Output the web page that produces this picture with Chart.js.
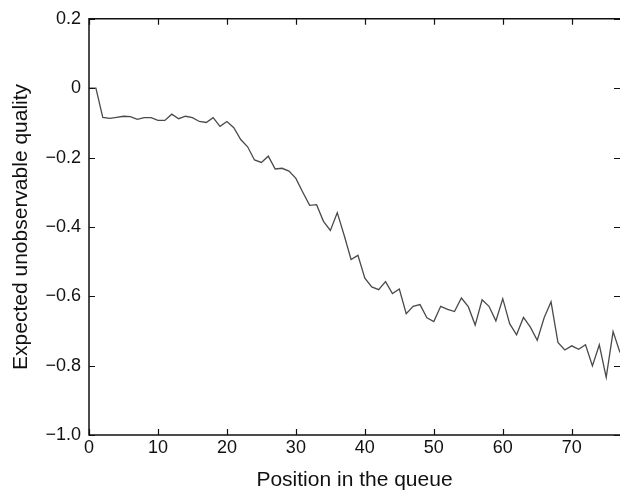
<!DOCTYPE html>
<html>
<head>
<meta charset="utf-8">
<script src="https://cdn.jsdelivr.net/npm/chart.js@4/dist/chart.umd.min.js"></script>
<style>
  html, body { margin: 0; padding: 0; background: #fff; }
  #wrap { width: 620px; height: 493px; }
</style>
</head>
<body>
<div id="wrap"><canvas id="c" width="620" height="493"></canvas></div>
<script>
// Position in the queue (x) and expected unobservable quality (y)
const positions = [];
for (let i = 0; i <= 77; i++) positions.push(i);
const quality = [
  0, 0, -0.084, -0.087, -0.084, -0.081, -0.082, -0.090, -0.085, -0.085,
  -0.093, -0.093, -0.075, -0.088, -0.081, -0.085, -0.096, -0.099, -0.085, -0.110,
  -0.096, -0.114, -0.148, -0.169, -0.207, -0.214, -0.196, -0.233, -0.231, -0.239,
  -0.260, -0.300, -0.338, -0.336, -0.384, -0.410, -0.359, -0.424, -0.494, -0.482,
  -0.548, -0.573, -0.581, -0.558, -0.592, -0.579, -0.650, -0.629, -0.624, -0.662,
  -0.673, -0.629, -0.638, -0.644, -0.605, -0.630, -0.683, -0.610, -0.629, -0.671,
  -0.607, -0.679, -0.711, -0.661, -0.689, -0.727, -0.662, -0.616, -0.733, -0.755,
  -0.743, -0.753, -0.740, -0.801, -0.740, -0.834, -0.702, -0.762
];
const xTicks = [0, 10, 20, 30, 40, 50, 60, 70];
const yTicks = [-1.0, -0.8, -0.6, -0.4, -0.2, 0, 0.2];
const xTitle = 'Position in the queue';
const yTitle = 'Expected unobservable quality';

const points = positions.map((x, i) => ({ x: x, y: quality[i] }));
const FONT = '"Liberation Sans", Arial, Helvetica, sans-serif';

function fmtY(v) {
  if (Math.abs(v) < 1e-9) return '0';
  return v.toFixed(1).replace('-', '\u2212');
}

const frameTicks = {
  id: 'frameTicks',
  afterDraw(chart) {
    const { ctx, chartArea: a, scales } = chart;
    const L = 6;
    ctx.save();
    ctx.strokeStyle = '#111';
    ctx.lineWidth = 1.5;
    ctx.beginPath();
    ctx.moveTo(a.right + 2, a.top);
    ctx.lineTo(a.left, a.top);
    ctx.lineTo(a.left, a.bottom);
    ctx.lineTo(a.right + 2, a.bottom);
    ctx.stroke();
    ctx.lineWidth = 1.2;
    ctx.beginPath();
    xTicks.forEach(v => {
      const px = Math.round(scales.x.getPixelForValue(v)) + 0.5;
      ctx.moveTo(px, a.bottom); ctx.lineTo(px, a.bottom - L);
      ctx.moveTo(px, a.top); ctx.lineTo(px, a.top + L);
    });
    yTicks.forEach(v => {
      const py = Math.round(scales.y.getPixelForValue(v)) + 0.5;
      ctx.moveTo(a.left, py); ctx.lineTo(a.left + L, py);
      ctx.moveTo(a.right, py); ctx.lineTo(a.right - L, py);
    });
    ctx.stroke();
    ctx.restore();
  }
};

new Chart(document.getElementById('c'), {
  type: 'line',
  data: {
    datasets: [{
      data: points,
      borderColor: '#4a4a4a',
      borderWidth: 1.3,
      pointRadius: 0,
      tension: 0,
      fill: false
    }]
  },
  options: {
    responsive: false,
    animation: false,
    devicePixelRatio: 1,
    layout: { padding: { top: 15, right: 0, bottom: 0, left: 0 } },
    plugins: { legend: { display: false }, tooltip: { enabled: false } },
    scales: {
      x: {
        type: 'linear',
        min: 0, max: 77,
        afterFit(s) { s.height = 58; },
        afterBuildTicks(s) { s.ticks = xTicks.map(v => ({ value: v })); },
        grid: { display: false, drawTicks: false },
        border: { display: false },
        ticks: {
          padding: 2,
          color: '#111',
          font: { family: FONT, size: 18 },
          maxRotation: 0,
          autoSkip: false,
          callback: v => String(v)
        },
        title: {
          display: true,
          text: xTitle,
          color: '#111',
          font: { family: FONT, size: 21 },
          padding: { top: 0, bottom: 0 }
        }
      },
      y: {
        type: 'linear',
        min: -1.0, max: 0.2,
        afterFit(s) { s.width = 89; },
        afterBuildTicks(s) { s.ticks = yTicks.map(v => ({ value: v })); },
        grid: { display: false, drawTicks: false },
        border: { display: false },
        ticks: {
          padding: 8,
          color: '#111',
          font: { family: FONT, size: 18 },
          autoSkip: false,
          callback: v => fmtY(v)
        },
        title: {
          display: true,
          text: yTitle,
          color: '#111',
          font: { family: FONT, size: 21 },
          padding: { top: 9, bottom: 0 }
        }
      }
    }
  },
  plugins: [frameTicks]
});
</script>
</body>
</html>
